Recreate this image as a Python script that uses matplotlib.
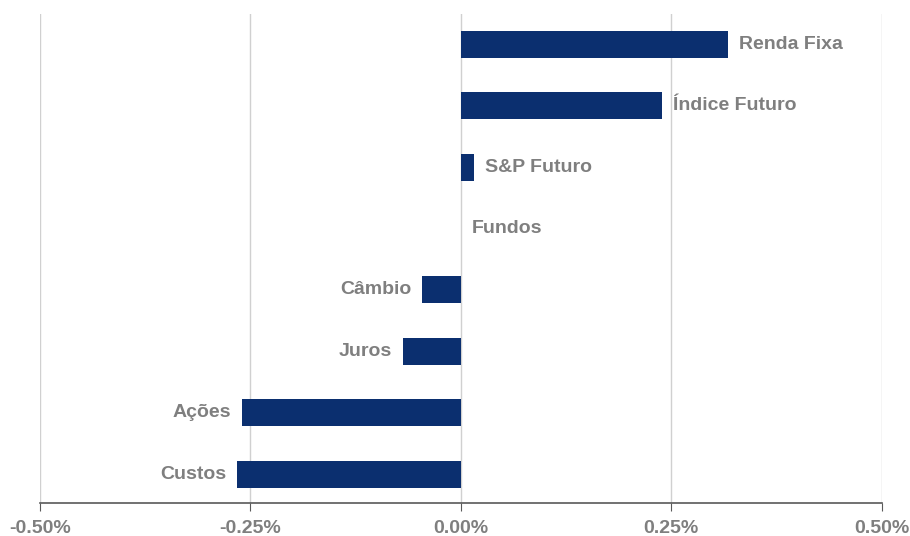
import matplotlib.pyplot as plt
from matplotlib.ticker import FuncFormatter

plt.rcParams['font.family'] = ['Liberation Sans', 'DejaVu Sans']

categories = ["Custos", "Ações", "Juros", "Câmbio", "Fundos", "S&P Futuro", "Índice Futuro", "Renda Fixa"]
values = [-0.266, -0.260, -0.069, -0.046, 0.0, 0.015, 0.239, 0.317]
ticks = [-0.50, -0.25, 0.00, 0.25, 0.50]

bar_color = "#0B2F6F"
label_color = "#7F7F7F"

fig = plt.figure(figsize=(9.1, 5.36), dpi=100)
ax = fig.add_axes([0.044, 0.0616, 0.925, 0.912])

pos = range(len(categories))
ax.barh(pos, values, height=0.44, color=bar_color, zorder=3)

for i, (name, v) in enumerate(zip(categories, values)):
    if v >= 0:
        ax.annotate(name, (v, i), xytext=(8, 0), textcoords="offset points",
                    ha="left", va="center", fontsize=14, fontweight="bold", color=label_color)
    else:
        ax.annotate(name, (v, i), xytext=(-8, 0), textcoords="offset points",
                    ha="right", va="center", fontsize=14, fontweight="bold", color=label_color)

ax.set_xlim(-0.5, 0.5)
ax.set_ylim(-0.47, 7.49)
ax.set_xticks(ticks)
ax.xaxis.set_major_formatter(FuncFormatter(lambda x, p: f"{x:.2f}%"))
ax.set_yticks([])
ax.grid(axis="x", color="#D0D0D0", linewidth=1, zorder=0)

for s in ["top", "right", "left"]:
    ax.spines[s].set_visible(False)
ax.spines["bottom"].set_color("#595959")
ax.spines["bottom"].set_linewidth(1.2)
ax.tick_params(axis="x", direction="out", length=6, color="#595959",
               labelsize=14, labelcolor=label_color, pad=6)
for lbl in ax.get_xticklabels():
    lbl.set_fontweight("bold")

fig.savefig("out.png", dpi=100)
